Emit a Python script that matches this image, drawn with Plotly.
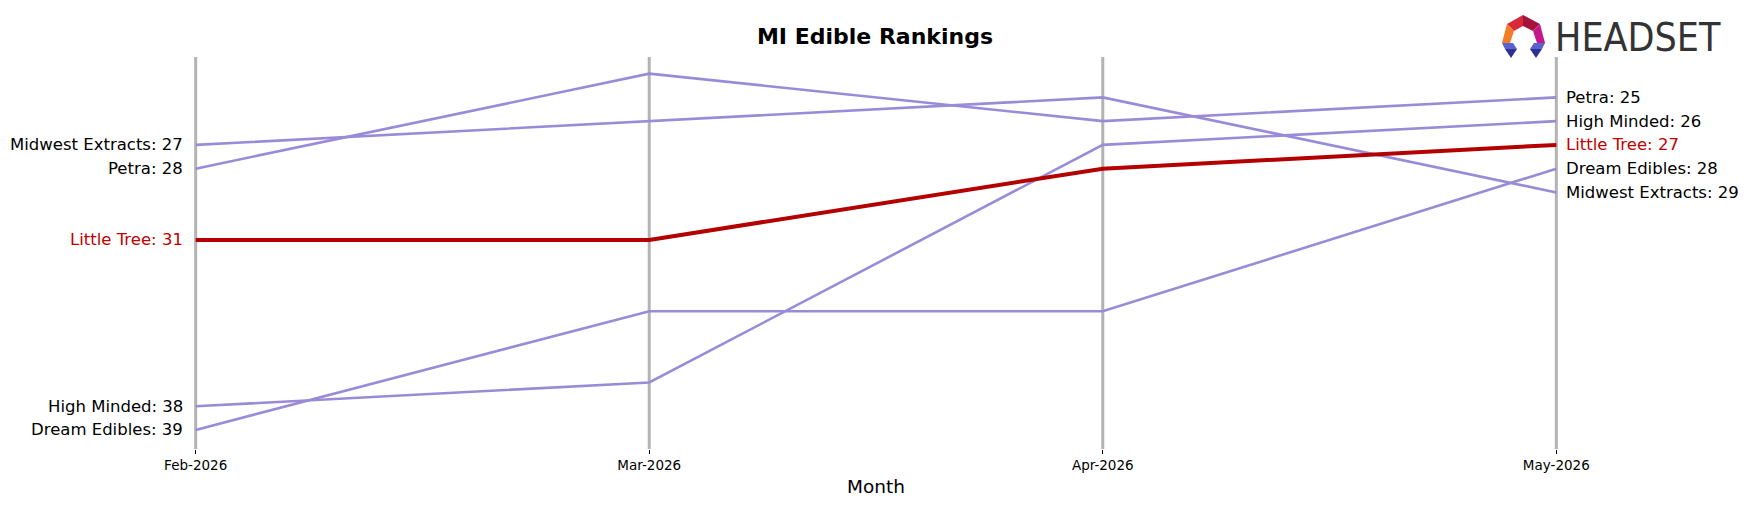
import plotly.graph_objects as go

months = ["Feb-2026", "Mar-2026", "Apr-2026", "May-2026"]
brands = ["Midwest Extracts", "Petra", "Little Tree", "High Minded", "Dream Edibles"]
midwest_extracts = [27, 26, 25, 29]
petra = [28, 24, 26, 25]
little_tree = [31, 31, 28, 27]
high_minded = [38, 37, 27, 26]
dream_edibles = [39, 34, 34, 28]
series = {
    "Midwest Extracts": midwest_extracts,
    "Petra": petra,
    "Little Tree": little_tree,
    "High Minded": high_minded,
    "Dream Edibles": dream_edibles,
}
highlight = "Little Tree"

W, H = 1750, 507
ML, MR, MT, MB = 173, 171, 57, 58
PW, PH = W - ML - MR, H - MT - MB

PURPLE = "#9a8bd8"
RED = "#b30000"
LABEL_RED = "#c00000"
FONT = "DejaVu Sans, Verdana, sans-serif"

xs = list(range(len(months)))
fig = go.Figure()

for name in brands:
    if name == highlight:
        continue
    fig.add_trace(go.Scatter(x=xs, y=series[name], mode="lines",
                             line=dict(color=PURPLE, width=2.6), hoverinfo="skip",
                             showlegend=False))
fig.add_trace(go.Scatter(x=xs, y=series[highlight], mode="lines",
                         line=dict(color=RED, width=4), hoverinfo="skip",
                         showlegend=False))

shapes = []
for x in xs:
    shapes.append(dict(type="line", xref="x", yref="paper", x0=x, x1=x, y0=0, y1=1,
                       line=dict(color="#b3b3b3", width=3), layer="below"))

annotations = []
for name in brands:
    v = series[name]
    col = LABEL_RED if name == highlight else "black"
    annotations.append(dict(x=0, y=v[0], xref="x", yref="y", text=f"{name}: {v[0]}",
                            xanchor="right", yanchor="middle", xshift=-11, showarrow=False,
                            font=dict(family=FONT, size=16.5, color=col)))
    annotations.append(dict(x=3, y=v[-1], xref="x", yref="y", text=f"{name}: {v[-1]}",
                            xanchor="left", yanchor="middle", xshift=8, showarrow=False,
                            font=dict(family=FONT, size=16.5, color=col)))


def px(x):
    return (x - ML) / PW


def py(y):
    return (H - MB - y) / PH


def poly(points, color):
    path = "M " + " L ".join(f"{px(a):.5f},{py(b):.5f}" for a, b in points) + " Z"
    return dict(type="path", xref="paper", yref="paper", path=path,
                fillcolor=color, line=dict(width=0), layer="above")


# logo icon
shapes += [
    poly([(1523, 15), (1507, 24), (1514, 31), (1523, 26)], "#d92a3a"),
    poly([(1523, 15), (1540, 24), (1533, 31), (1523, 26)], "#a5133c"),
    poly([(1507, 24), (1502, 43), (1510, 43), (1514, 31)], "#f47c24"),
    poly([(1540, 24), (1545, 43), (1537, 43), (1533, 31)], "#c4178c"),
    poly([(1502, 43), (1513, 43), (1517, 49), (1505, 49)], "#5c61d0"),
    poly([(1505, 49), (1517, 49), (1511, 58)], "#2e3192"),
    poly([(1545, 43), (1534, 43), (1530, 49), (1542, 49)], "#5c61d0"),
    poly([(1542, 49), (1530, 49), (1536, 58)], "#2e3192"),
]
annotations.append(dict(x=px(1553), y=py(38), xref="paper", yref="paper", text="HEADSET",
                        xanchor="left", yanchor="middle", showarrow=False,
                        font=dict(family="DejaVu Sans Condensed, Liberation Sans Narrow, sans-serif",
                                  size=39, color="#333333")))

annotations.append(dict(x=0.5, y=py(486), xref="paper", yref="paper", text="Month",
                        xanchor="center", yanchor="middle", showarrow=False,
                        font=dict(family=FONT, size=18.5, color="black")))

fig.update_layout(
    width=W, height=H,
    margin=dict(l=ML, r=MR, t=MT, b=MB, pad=0),
    paper_bgcolor="white", plot_bgcolor="white",
    title=dict(text="<b>MI Edible Rankings</b>", x=(875) / W, xanchor="center",
               y=1 - 36 / H, yanchor="middle",
               font=dict(family=FONT, size=22, color="black")),
    xaxis=dict(range=[-0.05, 3.05], tickvals=xs, ticktext=months, showgrid=False,
               zeroline=False, showline=False, ticks="outside", ticklen=4, tickwidth=1,
               tickcolor="black", tickfont=dict(family=FONT, size=13.5, color="black")),
    yaxis=dict(range=[39.8, 23.3], showgrid=False, zeroline=False, showline=False,
               showticklabels=False, ticks=""),
    shapes=shapes,
    annotations=annotations,
    showlegend=False,
)

fig.write_html("out.html")
